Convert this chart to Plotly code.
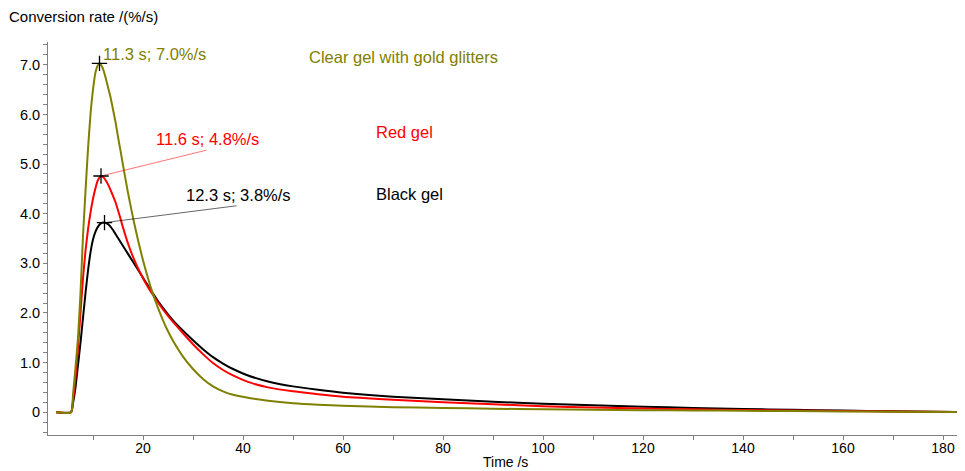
import plotly.graph_objects as go

# ---------------- data ----------------
t_clear = [2.6, 5.6, 6.0, 6.5, 7.0, 7.5, 8.0, 8.5, 9.0, 9.5, 10.0, 10.5, 11.0, 11.3, 11.6, 12.0, 12.5,
           13.0, 13.5, 14.0, 14.5, 15.0, 15.5, 16.0, 17.0, 18.0, 19.0, 20.0, 21.0, 22.0, 23.0, 24.0,
           25.0, 26.0, 28.0, 30.0, 32.0, 34.0, 36.0, 38.0, 41.0, 45.0, 50.0, 55.0, 60.0, 70.0, 80.0,
           90.0, 100.0, 110.0, 120.0, 130.0, 140.0, 150.0, 160.0, 170.0, 182.7]
v_clear = [0, 0, 0.35, 0.9, 1.5, 2.4, 3.55, 4.45, 5.3, 6.0, 6.5, 6.85, 7.0, 7.03, 7.0, 6.92, 6.75,
           6.55, 6.35, 6.1, 5.85, 5.55, 5.27, 4.98, 4.42, 3.92, 3.47, 3.06, 2.7, 2.38, 2.1, 1.85,
           1.63, 1.44, 1.12, 0.87, 0.67, 0.52, 0.42, 0.35, 0.29, 0.23, 0.18, 0.15, 0.13, 0.10, 0.085,
           0.07, 0.06, 0.05, 0.04, 0.035, 0.028, 0.022, 0.016, 0.01, 0.005]

t_red = [2.6, 5.6, 6.0, 6.5, 7.0, 7.5, 8.0, 8.5, 9.0, 9.5, 10.0, 10.5, 11.0, 11.6, 12.0, 12.5,
         13.0, 13.5, 14.0, 14.5, 15.0, 15.5, 16.0, 17.0, 18.0, 19.0, 20.0, 21.0, 22.0, 23.0, 24.0,
         25.0, 26.0, 28.0, 30.0, 32.0, 34.0, 36.0, 38.0, 41.0, 45.0, 50.0, 55.0, 60.0, 70.0, 80.0,
         90.0, 100.0, 110.0, 120.0, 130.0, 140.0, 150.0, 160.0, 170.0, 182.7]
v_red = [0, 0, 0.25, 0.7, 1.3, 2.0, 2.7, 3.25, 3.68, 4.02, 4.3, 4.52, 4.68, 4.76, 4.74, 4.68,
         4.59, 4.48, 4.36, 4.23, 4.07, 3.9, 3.72, 3.4, 3.13, 2.9, 2.7, 2.52, 2.36, 2.21, 2.07,
         1.94, 1.82, 1.59, 1.37, 1.17, 0.99, 0.85, 0.74, 0.61, 0.5, 0.42, 0.36, 0.31, 0.25, 0.2,
         0.16, 0.12, 0.095, 0.075, 0.058, 0.045, 0.034, 0.024, 0.015, 0.006]

t_black = [2.6, 5.6, 6.0, 6.5, 7.0, 7.5, 8.0, 8.5, 9.0, 9.5, 10.0, 10.5, 11.0, 11.5, 12.3, 13.0,
           13.5, 14.0, 14.5, 15.0, 15.5, 16.0, 17.0, 18.0, 19.0, 20.0, 21.0, 22.0, 23.0, 24.0,
           25.0, 26.0, 28.0, 30.0, 32.0, 34.0, 36.0, 38.0, 41.0, 45.0, 50.0, 55.0, 60.0, 70.0, 80.0,
           90.0, 100.0, 110.0, 120.0, 130.0, 140.0, 150.0, 160.0, 170.0, 182.7]
v_black = [0, 0, 0.18, 0.5, 0.95, 1.4, 1.9, 2.4, 2.85, 3.22, 3.48, 3.64, 3.74, 3.8, 3.82, 3.79,
           3.74, 3.67, 3.59, 3.51, 3.43, 3.35, 3.19, 3.03, 2.87, 2.71, 2.55, 2.39, 2.24, 2.1,
           1.97, 1.85, 1.64, 1.45, 1.27, 1.11, 0.98, 0.87, 0.74, 0.62, 0.52, 0.45, 0.39, 0.31, 0.26,
           0.21, 0.17, 0.14, 0.11, 0.085, 0.065, 0.048, 0.032, 0.02, 0.006]

series_names = ["Black gel", "Red gel", "Clear gel with gold glitters"]
series_colors = ["#000000", "#ff0000", "#808000"]

peak_t = [12.3, 11.6, 11.3]
peak_v = [3.82, 4.76, 7.03]

y_tickvals = [0, 1, 2, 3, 4, 5, 6, 7]
y_ticktext = ["0", "1.0", "2.0", "3.0", "4.0", "5.0", "6.0", "7.0"]
x_tickvals = [20, 40, 60, 80, 100, 120, 140, 160, 180]

FONT = "Liberation Sans, Arial, sans-serif"

fig = go.Figure()
curves = [(t_black, v_black), (t_red, v_red), (t_clear, v_clear)]
for (tt, vv), name, col in zip(curves, series_names, series_colors):
    fig.add_trace(go.Scatter(x=tt, y=vv, mode="lines", name=name,
                             line=dict(color=col, width=2, shape="spline", smoothing=0.6),
                             showlegend=False, hoverinfo="x+y"))

# leader lines (peak -> label), for black and red
leader_end = [(38.7, 4.16), (32.7, 5.28)]
leader_cols = ["rgba(0,0,0,0.6)", "rgba(255,0,0,0.55)"]
for i in range(2):
    fig.add_trace(go.Scatter(x=[peak_t[i], leader_end[i][0]], y=[peak_v[i], leader_end[i][1]],
                             mode="lines", line=dict(color=leader_cols[i], width=1),
                             showlegend=False, hoverinfo="skip"))

# peak markers
fig.add_trace(go.Scatter(x=peak_t, y=peak_v, mode="markers", showlegend=False,
                         marker=dict(symbol="cross-thin", size=11,
                                     line=dict(color="#000000", width=1.3)),
                         hoverinfo="x+y"))

# peak labels
label_pos = [(28.1, 4.37), (22.2, 5.50), (11.6, 7.22)]
for i in range(3):
    fig.add_annotation(x=label_pos[i][0], y=label_pos[i][1], xref="x", yref="y",
                       text=f"{peak_t[i]:.1f} s; {peak_v[i]:.1f}%/s", showarrow=False,
                       xanchor="left", yanchor="middle",
                       font=dict(family=FONT, size=16.5, color=series_colors[i]))

# series labels
name_pos = [(66.1, 4.40), (66.1, 5.65), (52.8, 7.16)]
for i in range(3):
    fig.add_annotation(x=name_pos[i][0], y=name_pos[i][1], xref="x", yref="y",
                       text=series_names[i], showarrow=False,
                       xanchor="left", yanchor="middle",
                       font=dict(family=FONT, size=16.5, color=series_colors[i]))

# y axis title (at top-left)
fig.add_annotation(x=0, y=1, xref="paper", yref="paper", xanchor="left", yanchor="bottom",
                   xshift=-41, yshift=15, text="Conversion rate /(%/s)", showarrow=False,
                   font=dict(family=FONT, size=15, color="#000000"))

# x axis title
fig.add_annotation(x=0.5, y=0, xref="paper", yref="paper", xanchor="center", yanchor="middle",
                   yshift=-27, text="Time /s", showarrow=False,
                   font=dict(family=FONT, size=14, color="#000000"))

# page body has an 8px margin, so the figure is sized to fit the 965x471 window
fig.update_layout(
    width=957, height=463,
    margin=dict(l=40, r=2, t=34, b=36),
    paper_bgcolor="white", plot_bgcolor="white",
    font=dict(family=FONT, size=14, color="#000000"),
    xaxis=dict(range=[1, 184], tickvals=x_tickvals, ticks="", showgrid=False, zeroline=False,
               showline=True, linecolor="#808080", linewidth=1,
               minor=dict(dtick=10, tick0=0, ticks="outside", ticklen=4, tickcolor="#808080"),
               tickfont=dict(family=FONT, size=14, color="#000000")),
    yaxis=dict(range=[-0.46, 7.46], tickvals=y_tickvals, ticktext=y_ticktext,
               ticks="outside", ticklen=4, tickcolor="#808080", showgrid=False, zeroline=False,
               showline=True, linecolor="#808080", linewidth=1,
               minor=dict(dtick=0.2, tick0=0, ticks="outside", ticklen=4, tickcolor="#808080"),
               tickfont=dict(family=FONT, size=14.5, color="#000000")),
)

fig.write_html("out.html")
